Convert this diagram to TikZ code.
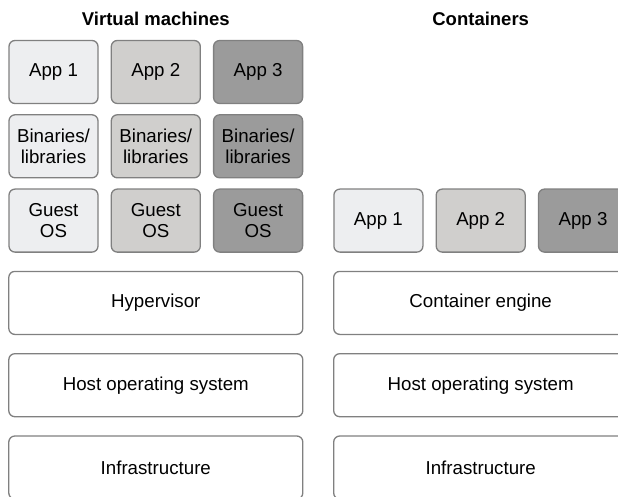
\documentclass[tikz,border=0pt]{standalone}
\usepackage{fontspec}
\setmainfont{Liberation Sans}
\usetikzlibrary{positioning}
\definecolor{AppOne}{HTML}{EDEEF0}
\definecolor{AppTwo}{HTML}{D0CFCD}
\definecolor{AppThree}{HTML}{9B9B9B}
\definecolor{EdgeGray}{HTML}{808080}
\tikzset{
  sbox/.style  = {draw=EdgeGray, line width=1.3pt, rounded corners=6pt,
                  minimum width=89pt, minimum height=63pt, align=center,
                  inner sep=1pt, font=\fontsize{18.7}{21.5}\selectfont},
  lbox/.style  = {draw=EdgeGray, line width=1.3pt, rounded corners=6pt,
                  fill=white, minimum width=294pt, minimum height=63pt,
                  font=\fontsize{18.7}{21.5}\selectfont},
  title/.style = {inner sep=0pt, font=\fontsize{18.5}{21}\selectfont\bfseries}
}

\begin{document}
\begin{tikzpicture}[x=1pt, y=1pt]
\useasboundingbox (0,0) rectangle (618,-497);
\clip (0,0) rectangle (618,-497);
% virtual machines
\node[sbox, fill=AppOne] (vapp1) at (53.5,-72) {App 1};
\node[sbox, fill=AppTwo, right=12pt of vapp1] (vapp2) {App 2};
\node[sbox, fill=AppThree, right=12pt of vapp2] (vapp3) {App 3};
\node[sbox, fill=AppOne, below=10pt of vapp1] (vbin1) {Binaries/\\libraries};
\node[sbox, fill=AppTwo, below=10pt of vapp2] (vbin2) {Binaries/\\libraries};
\node[sbox, fill=AppThree, below=10pt of vapp3] (vbin3) {Binaries/\\libraries};
\node[sbox, fill=AppOne, below=10pt of vbin1] (vos1) {Guest\\OS};
\node[sbox, fill=AppTwo, below=10pt of vbin2] (vos2) {Guest\\OS};
\node[sbox, fill=AppThree, below=10pt of vbin3] (vos3) {Guest\\OS};
\node[lbox, below=18pt of vos2] (hyper) {Hypervisor};
\node[lbox, below=18pt of hyper] (vhost) {Host operating system};
\node[lbox, below=18pt of vhost] (vinfra) {Infrastructure};
\node[title, above=14pt of vapp2] (vmtitle) {Virtual machines};
% containers
\node[sbox, fill=AppOne, right=30pt of vos3] (capp1) {App 1};
\node[sbox, fill=AppTwo, right=12pt of capp1] (capp2) {App 2};
\node[sbox, fill=AppThree, right=12pt of capp2] (capp3) {App 3};
\node[lbox, below=18pt of capp2] (engine) {Container engine};
\node[lbox, below=18pt of engine] (chost) {Host operating system};
\node[lbox, below=18pt of chost] (cinfra) {Infrastructure};
\node[title] (cttitle) at (vmtitle -| capp2) {Containers};
\end{tikzpicture}
\end{document}
